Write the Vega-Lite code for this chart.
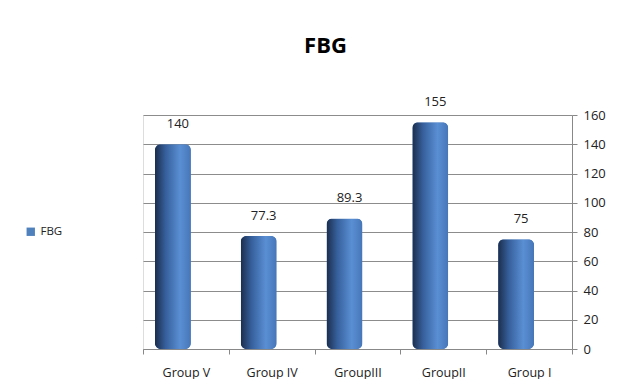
{
  "$schema": "https://vega.github.io/schema/vega-lite/v6.json",
  "autosize": "none",
  "width": 429,
  "height": 234,
  "padding": {"left": 143, "top": 115, "right": 49, "bottom": 30},
  "background": "white",
  "title": {
    "text": "FBG",
    "fontSize": 22,
    "fontWeight": "bold",
    "font": "Open Sans",
    "color": "#000000",
    "anchor": "middle",
    "dx": -32,
    "offset": 38
  },
  "data": {
    "values": [
      {"group": "Group V", "value": 140, "label": "140", "series": "FBG"},
      {"group": "Group IV", "value": 77.3, "label": "77.3", "series": "FBG"},
      {"group": "GroupIII", "value": 89.3, "label": "89.3", "series": "FBG"},
      {"group": "GroupII", "value": 155, "label": "155", "series": "FBG"},
      {"group": "Group I", "value": 75, "label": "75", "series": "FBG"}
    ]
  },
  "encoding": {
    "x": {
      "field": "group",
      "type": "nominal",
      "sort": null,
      "scale": {"paddingInner": 0, "paddingOuter": 0},
      "axis": {
        "title": null,
        "labelAngle": 0,
        "labelFont": "Open Sans",
        "labelFontSize": 12.5,
        "labelColor": "#222222",
        "labelPadding": 12,
        "domainColor": "#888888",
        "tickColor": "#888888",
        "tickBand": "extent",
        "tickSize": 5
      }
    },
    "y": {
      "field": "value",
      "type": "quantitative",
      "scale": {"domain": [0, 160], "nice": false},
      "axis": {
        "orient": "right",
        "title": null,
        "values": [0, 20, 40, 60, 80, 100, 120, 140, 160],
        "labelFont": "Open Sans",
        "labelFontSize": 13,
        "labelColor": "#222222",
        "labelPadding": 6,
        "domainColor": "#888888",
        "tickColor": "#888888",
        "tickSize": 5,
        "grid": true,
        "gridColor": "#8c8c8c",
        "gridWidth": 1
      }
    }
  },
  "layer": [
    {
      "mark": {
        "type": "bar",
        "size": 36,
        "xOffset": -13,
        "cornerRadiusTopLeft": 6,
        "cornerRadiusTopRight": 6,
        "cornerRadiusBottomLeft": 6,
        "cornerRadiusBottomRight": 6
      },
      "encoding": {
        "fill": {
          "field": "series",
          "type": "nominal",
          "scale": {"range": ["#4f81bd"]},
          "legend": {
            "title": null,
            "orient": "none",
            "legendX": -118,
            "legendY": 111,
            "symbolType": "square",
            "symbolSize": 70,
            "labelFont": "Open Sans",
            "labelFontSize": 11.5,
            "labelColor": "#222222"
          }
        }
      }
    },
    {
      "mark": {
        "type": "bar",
        "size": 36,
        "xOffset": -13,
        "cornerRadiusTopLeft": 6,
        "cornerRadiusTopRight": 6,
        "cornerRadiusBottomLeft": 6,
        "cornerRadiusBottomRight": 6,
        "color": {
          "gradient": "linear",
          "x1": 0, "y1": 0, "x2": 1, "y2": 0,
          "stops": [
            {"offset": 0, "color": "#1b2d4c"},
            {"offset": 0.3, "color": "#36609c"},
            {"offset": 0.7, "color": "#5a8fd4"},
            {"offset": 1, "color": "#4676b8"}
          ]
        }
      },
      "encoding": {}
    },
    {
      "mark": {
        "type": "text",
        "dy": -20,
        "xOffset": -8,
        "font": "Open Sans",
        "fontSize": 13,
        "color": "#222222"
      },
      "encoding": {
        "text": {"field": "label", "type": "nominal"}
      }
    }
  ]
}
